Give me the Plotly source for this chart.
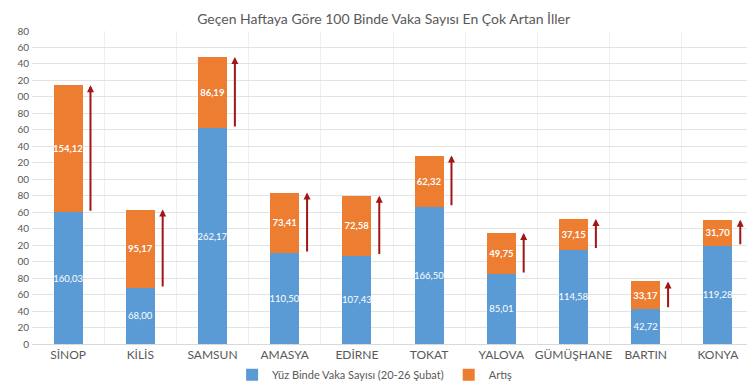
import plotly.graph_objects as go

categories = ["SİNOP", "KİLİS", "SAMSUN", "AMASYA", "EDİRNE", "TOKAT", "YALOVA", "GÜMÜŞHANE", "BARTIN", "KONYA"]
base_values = [160.03, 68.00, 262.17, 110.50, 107.43, 166.50, 85.01, 114.58, 42.72, 119.28]
increase_values = [154.12, 95.17, 86.19, 73.41, 72.58, 62.32, 49.75, 37.15, 33.17, 31.70]
y_ticks = list(range(0, 381, 20))
y_tick_labels = [str(v)[-2:] if v >= 100 else str(v) for v in y_ticks]

def fmt(v):
    return f"{v:.2f}".replace(".", ",")

FONT = "Lato, 'Open Sans', sans-serif"
GRAY = "#595959"

fig = go.Figure()
fig.add_trace(go.Bar(
    x=categories, y=base_values, name="Yüz Binde Vaka Sayısı (20-26 Şubat)",
    marker=dict(color="#5b9bd5", line=dict(width=0)),
    text=[fmt(v) for v in base_values], textposition="inside", insidetextanchor="middle",
    textangle=0, constraintext="none",
    textfont=dict(color="white", size=9.5, family=FONT), width=0.4,
))
fig.add_trace(go.Bar(
    x=categories, y=increase_values, name="Artış",
    marker=dict(color="#ed7d31", line=dict(width=0)),
    text=["<b>" + fmt(v) + "</b>" for v in increase_values], textposition="inside", insidetextanchor="middle",
    textangle=0, constraintext="none",
    textfont=dict(color="white", size=9.5, family=FONT), width=0.4,
))

annotations = []
for i, (b, inc) in enumerate(zip(base_values, increase_values)):
    annotations.append(dict(
        x=i + 0.31, y=b + inc, ax=i + 0.31, ay=b,
        xref="x", yref="y", axref="x", ayref="y",
        showarrow=True, arrowhead=2, arrowsize=0.7, arrowwidth=2,
        arrowcolor="#a31616", text="",
    ))

fig.update_layout(
    barmode="stack",
    width=755, height=390,
    margin=dict(l=17, r=9, t=23, b=41),
    paper_bgcolor="white", plot_bgcolor="white",
    font=dict(family=FONT, color=GRAY),
    title=dict(text="Geçen Haftaya Göre 100 Binde Vaka Sayısı En Çok Artan İller",
               x=0.487, xref="paper", xanchor="center", y=0.972, yref="container", yanchor="middle",
               font=dict(size=14, color=GRAY, family=FONT)),
    legend=dict(orientation="h", x=0.4745, xanchor="center", y=-0.098, yanchor="middle",
                font=dict(size=11, color=GRAY, family=FONT), itemwidth=30,
                traceorder="normal"),
    annotations=annotations,
)
fig.update_xaxes(
    showgrid=True, gridcolor="#efefef", tickson="boundaries", ticks="",
    showline=True, linecolor="#d9d9d9", linewidth=1, tickangle=0,
    tickfont=dict(size=12, color=GRAY, family=FONT),
)
fig.update_yaxes(
    range=[0, 380], tickvals=y_ticks, ticktext=y_tick_labels,
    showgrid=True, gridcolor="#e3e3e3", gridwidth=1, zeroline=False,
    tickfont=dict(size=10, color=GRAY, family=FONT), ticklabelstandoff=2,
)

fig.write_html("out.html")
